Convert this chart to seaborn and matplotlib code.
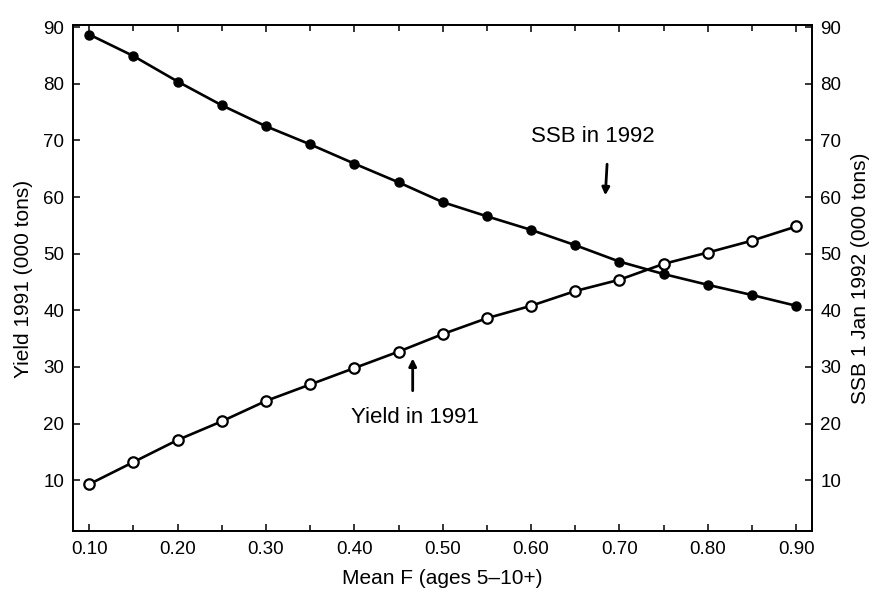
import matplotlib
matplotlib.use("Agg")
import matplotlib.pyplot as plt
from matplotlib.ticker import MultipleLocator
import seaborn as sns
import pandas as pd

# ---- data ----
mean_f = [0.10, 0.15, 0.20, 0.25, 0.30, 0.35, 0.40, 0.45, 0.50,
          0.55, 0.60, 0.65, 0.70, 0.75, 0.80, 0.85, 0.90]
yield_1991 = [9.3, 13.2, 17.1, 20.4, 24.0, 26.9, 29.8, 32.7, 35.8,
              38.6, 40.8, 43.4, 45.4, 48.2, 50.2, 52.3, 54.8]
ssb_1992 = [88.7, 84.9, 80.4, 76.2, 72.5, 69.3, 65.9, 62.6, 59.1,
            56.6, 54.2, 51.5, 48.6, 46.4, 44.5, 42.7, 40.8]
x_ticks = [0.10, 0.20, 0.30, 0.40, 0.50, 0.60, 0.70, 0.80, 0.90]
x_tick_labels = ["0.10", "0.20", "0.30", "0.40", "0.50", "0.60", "0.70", "0.80", "0.90"]
y_ticks = [10, 20, 30, 40, 50, 60, 70, 80, 90]

df = pd.DataFrame({"F": mean_f, "Yield": yield_1991, "SSB": ssb_1992})

sns.set_theme(style="ticks")
plt.rcParams["font.family"] = ["Liberation Sans", "DejaVu Sans"]
plt.rcParams["text.color"] = "black"
plt.rcParams["axes.labelcolor"] = "black"

fig = plt.figure(figsize=(8.76, 5.90), dpi=100)
ax = fig.add_axes([0.0828, 0.0992, 0.8442, 0.8576])
ax2 = ax.twinx()

sns.lineplot(data=df, x="F", y="Yield", ax=ax, color="black", linewidth=1.9,
             marker="o", markersize=7.5, markerfacecolor="white",
             markeredgecolor="black", markeredgewidth=1.6)
sns.lineplot(data=df, x="F", y="SSB", ax=ax2, color="black", linewidth=1.9,
             marker="o", markersize=6.5, markerfacecolor="black",
             markeredgecolor="black", markeredgewidth=1.0)

for a in (ax, ax2):
    a.set_xlim(0.081, 0.918)
    a.set_ylim(0.94, 90.3)
    a.set_yticks(y_ticks)
    a.set_yticklabels([str(v) for v in y_ticks])
    for s in a.spines.values():
        s.set_linewidth(1.3)
        s.set_color("black")

ax.set_xticks(x_ticks)
ax.set_xticklabels(x_tick_labels)
ax.xaxis.set_minor_locator(MultipleLocator(0.05))
ax.tick_params(axis="x", which="both", direction="in", top=True, bottom=True,
               length=5, width=1.1, labelsize=13.5, pad=7, colors="black")
ax.tick_params(axis="x", which="minor", length=4)
ax.tick_params(axis="y", direction="in", left=True, right=False,
               length=5, width=1.1, labelsize=13.5, pad=6, colors="black")
ax2.tick_params(axis="y", direction="in", right=True, left=False,
                length=5, width=1.1, labelsize=13.5, pad=6, colors="black")

ax.set_xlabel("Mean F (ages 5\u201310+)", fontsize=15, labelpad=8, color="black")
ax.set_ylabel("Yield 1991 (000 tons)", fontsize=15, labelpad=7, color="black")
ax2.set_ylabel("SSB 1 Jan 1992 (000 tons)", fontsize=15, labelpad=7, color="black")

ax.text(0.670, 70.7, "SSB in 1992", fontsize=16, ha="center", va="center",
        color="black")
ax.annotate("", xy=(0.684, 60.3), xytext=(0.686, 65.8),
            arrowprops=dict(arrowstyle="-|>", color="black", lw=2.0,
                            mutation_scale=11, shrinkA=0, shrinkB=0))
ax.text(0.469, 21.1, "Yield in 1991", fontsize=16, ha="center", va="center",
        color="black")
ax.annotate("", xy=(0.466, 31.5), xytext=(0.466, 25.8),
            arrowprops=dict(arrowstyle="-|>", color="black", lw=2.0,
                            mutation_scale=11, shrinkA=0, shrinkB=0))

fig.savefig("out.png", dpi=100, facecolor="white")
